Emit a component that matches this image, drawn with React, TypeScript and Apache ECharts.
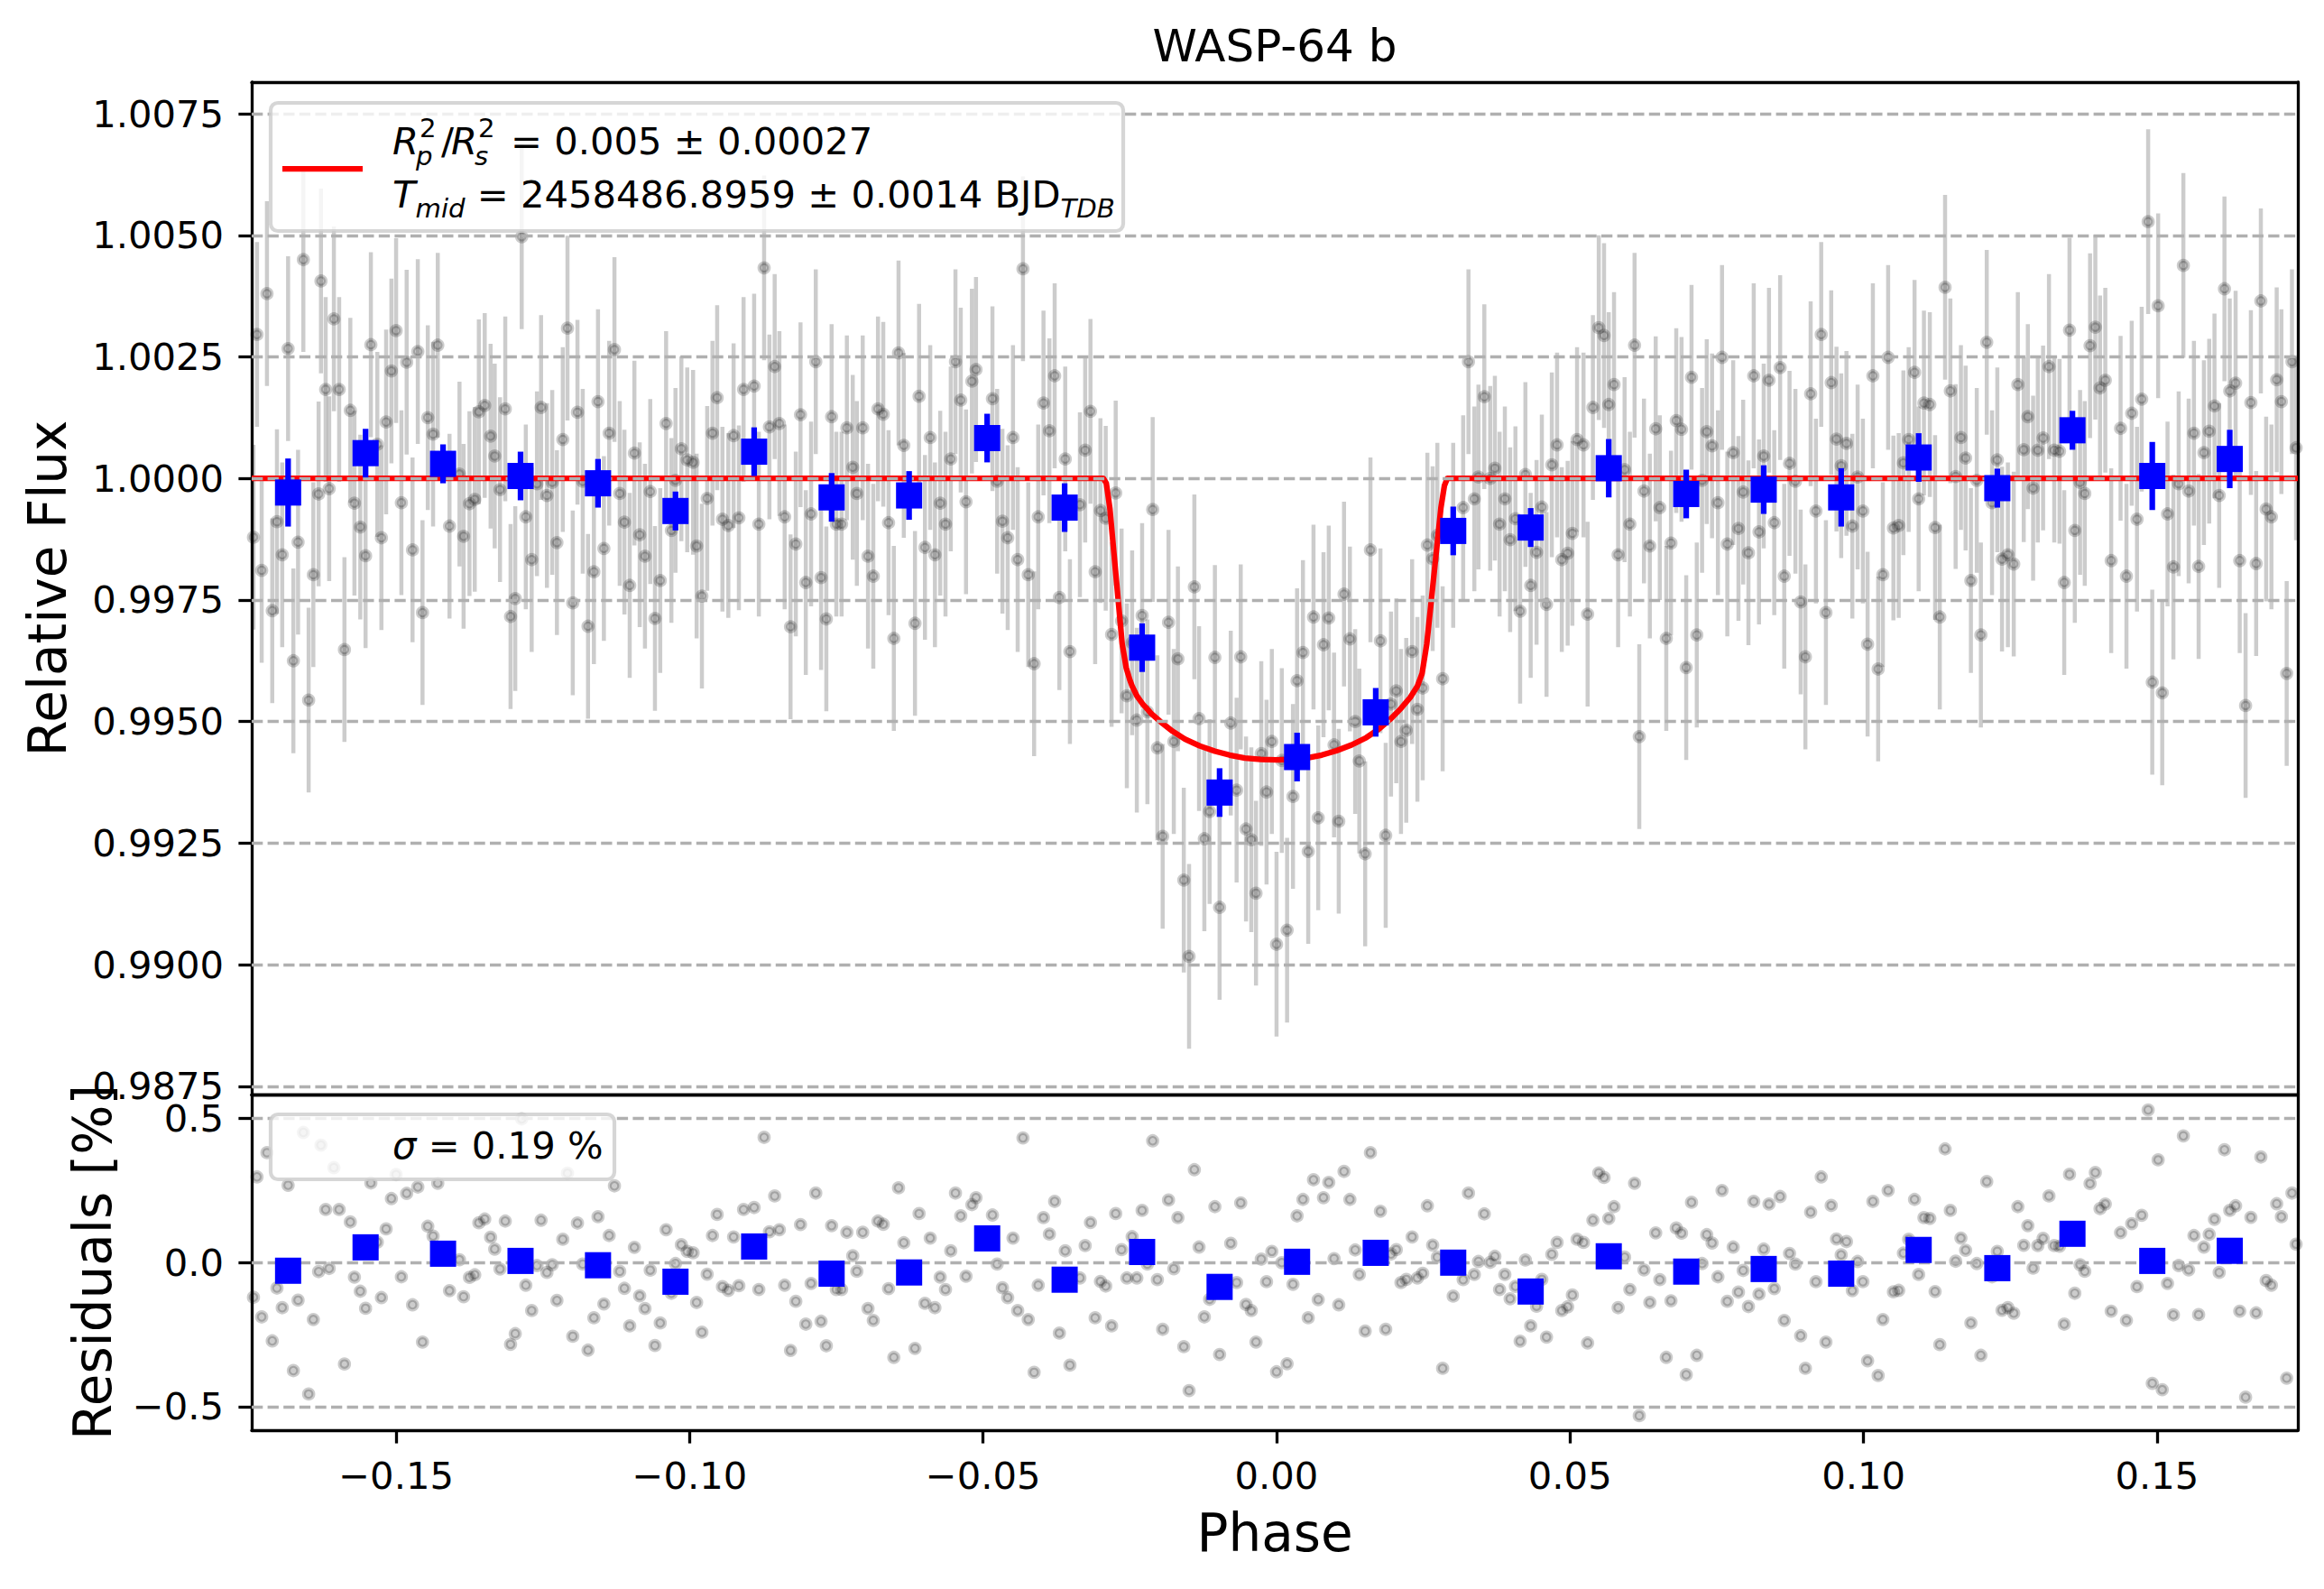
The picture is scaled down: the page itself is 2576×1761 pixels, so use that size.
import React, { useEffect, useRef } from 'react'
import * as echarts from 'echarts'

const FONT = 'DejaVu Sans'
const TICK_FS = 41.7
const LABEL_FS = 58
const TITLE = 'WASP-64 b'

// axis ranges and ticks
const PHASE_MIN = -0.1746
const PHASE_MAX = 0.174
const FLUX_MIN = 0.98733
const FLUX_MAX = 1.00815
const RESID_MIN = -0.5813
const RESID_MAX = 0.5813
const phaseTicks = [-0.15, -0.1, -0.05, 0, 0.05, 0.1, 0.15]
const fluxTicks = [0.9875, 0.99, 0.9925, 0.995, 0.9975, 1.0, 1.0025, 1.005, 1.0075]
const residTicks = [-0.5, 0, 0.5]

// unbinned photometry (2 min cadence)
const FLUX_ERR = 0.0019
const rawPhase = [
  -0.1743, -0.1737, -0.1729, -0.1720, -0.1711, -0.1703, -0.1694, -0.1684, -0.1675, -0.1667,
  -0.1658, -0.1649, -0.1641, -0.1632, -0.1628, -0.1620, -0.1614, -0.1606, -0.1597, -0.1588,
  -0.1578, -0.1571, -0.1561, -0.1552, -0.1543, -0.1532, -0.1525, -0.1517, -0.1508, -0.1500,
  -0.1491, -0.1482, -0.1472, -0.1463, -0.1455, -0.1446, -0.1437, -0.1429, -0.1409, -0.1392,
  -0.1385, -0.1375, -0.1366, -0.1359, -0.1349, -0.1339, -0.1332, -0.1323, -0.1314, -0.1305,
  -0.1297, -0.1286, -0.1279, -0.1269, -0.1260, -0.1253, -0.1243, -0.1234, -0.1226, -0.1216,
  -0.1208, -0.1199, -0.1191, -0.1182, -0.1173, -0.1163, -0.1156, -0.1146, -0.1137, -0.1128,
  -0.1119, -0.1111, -0.1102, -0.1094, -0.1085, -0.1076, -0.1067, -0.1059, -0.1050, -0.1040,
  -0.1031, -0.1024, -0.1014, -0.1004, -0.0994, -0.0988, -0.0979, -0.0970, -0.0961, -0.0953,
  -0.0944, -0.0934, -0.0925, -0.0916, -0.0908, -0.0890, -0.0882, -0.0873, -0.0864, -0.0855,
  -0.0847, -0.0838, -0.0828, -0.0819, -0.0811, -0.0802, -0.0793, -0.0785, -0.0776, -0.0767,
  -0.0758, -0.0750, -0.0741, -0.0732, -0.0722, -0.0715, -0.0705, -0.0696, -0.0687, -0.0679,
  -0.0670, -0.0661, -0.0652, -0.0644, -0.0635, -0.0616, -0.0609, -0.0599, -0.0590, -0.0582,
  -0.0573, -0.0564, -0.0555, -0.0547, -0.0538, -0.0529, -0.0519, -0.0512, -0.0484, -0.0476,
  -0.0467, -0.0458, -0.0449, -0.0441, -0.0432, -0.0423, -0.0413, -0.0406, -0.0397, -0.0387,
  -0.0378, -0.0370, -0.0360, -0.0352, -0.0335, -0.0326, -0.0317, -0.0309, -0.0300, -0.0291,
  -0.0281, -0.0274, -0.0264, -0.0255, -0.0246, -0.0238, -0.0229, -0.0220, -0.0211, -0.0203,
  -0.0194, -0.0184, -0.0175, -0.0168, -0.0158,
  -0.0149, -0.0140, -0.0132, -0.0123, -0.0114, -0.0105, -0.0097, -0.0078, -0.0068, -0.0061,
  -0.0052, -0.0043, -0.0035, -0.0026, -0.0017, -0.0008, 0.0000, 0.0009, 0.0018, 0.0028,
  0.0035, 0.0045, 0.0054, 0.0063, 0.0071, 0.0080, 0.0089, 0.0098, 0.0106, 0.0115,
  0.0125, 0.0134, 0.0141, 0.0151, 0.0160, 0.0177, 0.0186, 0.0195, 0.0204, 0.0212,
  0.0221, 0.0231, 0.0240, 0.0249, 0.0257, 0.0266, 0.0274, 0.0283, 0.0301, 0.0318,
  0.0327, 0.0337, 0.0344, 0.0354, 0.0364, 0.0372, 0.0380, 0.0389, 0.0398, 0.0407,
  0.0415, 0.0424, 0.0433, 0.0443, 0.0452, 0.0460, 0.0469, 0.0478, 0.0486, 0.0496,
  0.0504, 0.0512, 0.0523, 0.0530, 0.0539, 0.0549, 0.0558, 0.0566, 0.0575, 0.0582,
  0.0593, 0.0602, 0.0610, 0.0618, 0.0626,
  0.0636, 0.0646, 0.0653, 0.0664, 0.0672, 0.0681, 0.0690, 0.0698, 0.0707, 0.0716,
  0.0725, 0.0733, 0.0742, 0.0752, 0.0759, 0.0768, 0.0778, 0.0787, 0.0795, 0.0804,
  0.0813, 0.0822, 0.0830, 0.0839, 0.0848, 0.0858, 0.0865, 0.0874, 0.0884, 0.0893,
  0.0901, 0.0910, 0.0919, 0.0928, 0.0936, 0.0945, 0.0954, 0.0962, 0.0971, 0.0981,
  0.0990, 0.0999, 0.1007, 0.1016, 0.1025, 0.1033, 0.1042, 0.1051, 0.1060, 0.1068,
  0.1077, 0.1087, 0.1094, 0.1103, 0.1113, 0.1122, 0.1130, 0.1139, 0.1148, 0.1157,
  0.1166, 0.1174, 0.1183, 0.1193, 0.1200, 0.1210, 0.1219, 0.1228, 0.1236, 0.1246,
  0.1256, 0.1263, 0.1273, 0.1280, 0.1289, 0.1297, 0.1306, 0.1316, 0.1325, 0.1334,
  0.1342, 0.1351, 0.1360, 0.1369, 0.1377, 0.1386, 0.1395, 0.1403, 0.1412, 0.1422,
  0.1438, 0.1448, 0.1457, 0.1466, 0.1474, 0.1485, 0.1492, 0.1502, 0.1509, 0.1518,
  0.1528, 0.1537, 0.1545, 0.1554, 0.1563, 0.1571, 0.1580, 0.1589, 0.1598, 0.1606,
  0.1615, 0.1624, 0.1634, 0.1641, 0.1651, 0.1660, 0.1669, 0.1677, 0.1686, 0.1695,
  0.1704, 0.1712, 0.1721, 0.1730, 0.1737,
]
const rawFlux = [
  0.99879, 1.00296, 0.99811, 1.00380, 0.99728, 0.99911, 0.99843, 1.00267, 0.99625, 0.99869,
  1.00450, 0.99544, 0.99802, 0.99968, 1.00406, 1.00183, 0.99979, 1.00328, 1.00183, 0.99648,
  1.00140, 0.99949, 0.99900, 0.99841, 1.00275, 1.00070, 0.99878, 1.00116, 1.00221, 1.00304,
  0.99950, 1.00239, 0.99853, 1.00261, 0.99724, 1.00125, 1.00091, 1.00274, 0.99902, 1.00009,
  0.99881, 0.99948, 0.99957, 1.00137, 1.00150, 1.00087, 1.00046, 0.99977, 1.00143, 0.99716,
  0.99753, 1.00497, 0.99921, 0.99833, 0.99989, 1.00146, 0.99965, 0.99992, 0.99868, 1.00080,
  1.00309, 0.99744, 1.00136, 0.99994, 0.99696, 0.99808, 1.00158, 0.99856, 1.00093, 1.00265,
  0.99969, 0.99910, 0.99780, 1.00052, 0.99884, 0.99840, 0.99973, 0.99712, 0.99790, 1.00113,
  0.99893, 0.99996, 1.00061, 1.00038, 1.00033, 0.99861, 0.99758, 0.99959, 1.00093, 1.00166,
  0.99916, 0.99903, 1.00088, 0.99919, 1.00183, 1.00190, 0.99906, 1.00433, 1.00106, 1.00230,
  1.00113, 0.99921, 0.99695, 0.99865, 1.00131, 0.99786, 0.99927, 1.00240, 0.99796, 0.99711,
  1.00127, 0.99906, 0.99906, 1.00104, 1.00023, 0.99969, 1.00104, 0.99840, 0.99799, 1.00143,
  1.00132, 0.99909, 0.99671, 1.00258, 1.00068, 0.99702, 1.00169, 0.99858, 1.00084, 0.99843,
  0.99949, 0.99906, 1.00040, 1.00240, 1.00161, 0.99952, 1.00200, 1.00224, 1.00164, 0.99994,
  0.99912, 0.99878, 1.00084, 0.99833, 1.00431, 0.99802, 0.99619, 0.99921, 1.00155, 1.00098,
  1.00211, 0.99755, 1.00040, 0.99644, 0.99946, 1.00058, 1.00138, 0.99808, 0.99934, 0.99918,
  0.99679, 0.99970, 0.99707, 0.99553, 0.99662, 0.99503, 0.99718, 0.99520, 0.99936, 0.99446,
  0.99264, 0.99704, 0.99459, 0.99629, 0.99174,
  0.99017, 0.99777, 0.99506, 0.99259, 0.99315, 0.99632, 0.99118, 0.99497, 0.99359, 0.99633,
  0.99279, 0.99257, 0.99147, 0.99434, 0.99355, 0.99459, 0.99042, 0.99420, 0.99071, 0.99346,
  0.99584, 0.99642, 0.99233, 0.99715, 0.99302, 0.99658, 0.99713, 0.99452, 0.99295, 0.99762,
  0.99670, 0.99500, 0.99419, 0.99228, 0.99853, 0.99666, 0.99266, 0.99536, 0.99563, 0.99459,
  0.99482, 0.99644, 0.99525, 0.99569, 0.99863, 0.99835, 0.99883, 0.99588, 0.99883, 0.99940,
  1.00240, 0.99958, 1.00003, 1.00168, 1.00000, 1.00021, 0.99906, 0.99958, 0.99874, 0.99917,
  0.99727, 1.00008, 0.99780, 0.99848, 0.99941, 0.99741, 1.00028, 1.00069, 0.99833, 0.99846,
  0.99887, 1.00080, 1.00069, 0.99721, 1.00146, 1.00310, 1.00294, 1.00152, 1.00193, 0.99843,
  1.00018, 0.99906, 1.00274, 0.99469, 0.99974,
  0.99861, 1.00102, 0.99940, 0.99671, 0.99867, 1.00119, 1.00101, 0.99611, 1.00208, 0.99678,
  0.99996, 1.00096, 1.00067, 0.99950, 1.00249, 0.99865, 1.00053, 0.99897, 0.99972, 0.99847,
  1.00211, 0.99890, 1.00046, 1.00202, 0.99909, 1.00228, 0.99799, 1.00031, 0.99994, 0.99746,
  0.99633, 1.00174, 0.99933, 1.00296, 0.99724, 1.00197, 1.00081, 1.00026, 1.00072, 0.99902,
  1.00003, 0.99933, 0.99659, 1.00211, 0.99608, 0.99802, 1.00249, 0.99898, 0.99903, 1.00032,
  1.00080, 1.00218, 0.99958, 1.00155, 1.00152, 0.99899, 0.99715, 1.00393, 1.00180, 1.00004,
  1.00084, 1.00042, 0.99790, 0.99996, 0.99678, 1.00280, 0.99950, 1.00038, 0.99834, 0.99843,
  0.99824, 1.00193, 1.00059, 1.00127, 0.99980, 1.00058, 1.00083, 1.00230, 1.00058, 1.00056,
  0.99786, 1.00305, 0.99893, 0.99992, 0.99969, 1.00273, 1.00311, 1.00186, 1.00202, 0.99831,
  1.00103, 0.99799, 1.00134, 0.99916, 1.00163, 1.00528, 0.99581, 1.00355, 0.99559, 0.99927,
  0.99818, 0.99989, 1.00438, 0.99974, 1.00093, 0.99819, 1.00053, 1.00097, 1.00149, 0.99965,
  1.00390, 1.00180, 1.00196, 0.99831, 0.99533, 1.00156, 0.99825, 1.00365, 0.99937, 0.99921,
  1.00203, 1.00158, 0.99599, 1.00240, 1.00063,
]
// residuals in per cent
const rawResid = [
  -0.121, 0.296, -0.189, 0.380, -0.272, -0.089, -0.157, 0.267, -0.375, -0.131,
  0.450, -0.456, -0.198, -0.032, 0.406, 0.183, -0.021, 0.328, 0.183, -0.352,
  0.140, -0.051, -0.100, -0.159, 0.275, 0.070, -0.122, 0.116, 0.221, 0.304,
  -0.050, 0.239, -0.147, 0.261, -0.276, 0.125, 0.091, 0.274, -0.098, 0.009,
  -0.119, -0.052, -0.043, 0.137, 0.150, 0.087, 0.046, -0.023, 0.143, -0.284,
  -0.247, 0.497, -0.079, -0.167, -0.011, 0.146, -0.035, -0.008, -0.132, 0.080,
  0.309, -0.256, 0.136, -0.006, -0.304, -0.192, 0.158, -0.144, 0.093, 0.265,
  -0.031, -0.090, -0.220, 0.052, -0.116, -0.160, -0.027, -0.288, -0.210, 0.113,
  -0.107, -0.004, 0.061, 0.038, 0.033, -0.139, -0.242, -0.041, 0.093, 0.166,
  -0.084, -0.097, 0.088, -0.081, 0.183, 0.190, -0.094, 0.433, 0.106, 0.230,
  0.113, -0.079, -0.305, -0.135, 0.131, -0.214, -0.073, 0.240, -0.204, -0.289,
  0.127, -0.094, -0.094, 0.104, 0.023, -0.031, 0.104, -0.160, -0.201, 0.143,
  0.132, -0.091, -0.329, 0.258, 0.068, -0.298, 0.169, -0.142, 0.084, -0.157,
  -0.051, -0.094, 0.040, 0.240, 0.161, -0.048, 0.200, 0.224, 0.164, -0.006,
  -0.088, -0.122, 0.084, -0.167, 0.431, -0.198, -0.381, -0.079, 0.155, 0.098,
  0.211, -0.245, 0.040, -0.356, -0.054, 0.058, 0.138, -0.192, -0.066, -0.082,
  -0.220, 0.169, 0.044, -0.054, 0.089, -0.054, 0.180, -0.006, 0.421, -0.060,
  -0.232, 0.216, -0.022, 0.155, -0.292,
  -0.444, 0.321, 0.053, -0.189, -0.128, 0.193, -0.319, 0.066, -0.070, 0.206,
  -0.146, -0.167, -0.276, 0.011, -0.067, 0.038, -0.379, -0.001, -0.351, -0.076,
  0.161, 0.218, -0.192, 0.286, -0.129, 0.224, 0.277, 0.013, -0.147, 0.315,
  0.218, 0.043, -0.042, -0.238, 0.380, 0.177, -0.232, 0.029, 0.044, -0.070,
  -0.059, 0.088, -0.054, -0.038, 0.196, 0.060, 0.018, -0.367, -0.117, -0.060,
  0.240, -0.042, 0.003, 0.168, 0.000, 0.021, -0.094, -0.042, -0.126, -0.083,
  -0.273, 0.008, -0.220, -0.152, -0.059, -0.259, 0.028, 0.069, -0.167, -0.154,
  -0.113, 0.080, 0.069, -0.279, 0.146, 0.310, 0.294, 0.152, 0.193, -0.157,
  0.018, -0.094, 0.274, -0.531, -0.026,
  -0.139, 0.102, -0.060, -0.329, -0.133, 0.119, 0.101, -0.389, 0.208, -0.322,
  -0.004, 0.096, 0.067, -0.050, 0.249, -0.135, 0.053, -0.103, -0.028, -0.153,
  0.211, -0.110, 0.046, 0.202, -0.091, 0.228, -0.201, 0.031, -0.006, -0.254,
  -0.367, 0.174, -0.067, 0.296, -0.276, 0.197, 0.081, 0.026, 0.072, -0.098,
  0.003, -0.067, -0.341, 0.211, -0.392, -0.198, 0.249, -0.102, -0.097, 0.032,
  0.080, 0.218, -0.042, 0.155, 0.152, -0.101, -0.285, 0.393, 0.180, 0.004,
  0.084, 0.042, -0.210, -0.004, -0.322, 0.280, -0.050, 0.038, -0.166, -0.157,
  -0.176, 0.193, 0.059, 0.127, -0.020, 0.058, 0.083, 0.230, 0.058, 0.056,
  -0.214, 0.305, -0.107, -0.008, -0.031, 0.273, 0.311, 0.186, 0.202, -0.169,
  0.103, -0.201, 0.134, -0.084, 0.163, 0.528, -0.419, 0.355, -0.441, -0.073,
  -0.182, -0.011, 0.438, -0.026, 0.093, -0.181, 0.053, 0.097, 0.149, -0.035,
  0.390, 0.180, 0.196, -0.169, -0.467, 0.156, -0.175, 0.365, -0.063, -0.079,
  0.203, 0.158, -0.401, 0.240, 0.063,
]

// binned points
const binPhase = [
  -0.1684, -0.1552, -0.1420, -0.1288, -0.1156, -0.1024, -0.0890, -0.0758, -0.0626, -0.0493,
  -0.0361, -0.0229, -0.0097, 0.0035, 0.0169, 0.0301, 0.0433, 0.0566, 0.0698, 0.0830,
  0.0962, 0.1094, 0.1228, 0.1356, 0.1492, 0.1624,
]
const binFlux = [
  0.99971, 1.00052, 1.00030, 1.00005, 0.99990, 0.99933, 1.00055, 0.99961, 0.99965, 1.00083,
  0.99940, 0.99652, 0.99354, 0.99427, 0.99519, 0.99892, 0.99899, 1.00021, 0.99968, 0.99977,
  0.99961, 1.00043, 0.99980, 1.00099, 1.00005, 1.00040,
]
const binErr = [
  0.0007, 0.0005, 0.0004, 0.0005, 0.0005, 0.0004, 0.0005, 0.0005, 0.0005, 0.0005,
  0.0005, 0.0005, 0.0005, 0.0005, 0.0005, 0.0005, 0.0004, 0.0006, 0.0005, 0.0005,
  0.0006, 0.0005, 0.0004, 0.0004, 0.0007, 0.0006,
]
const binResid = [
  -0.029, 0.052, 0.030, 0.005, -0.010, -0.067, 0.055, -0.039, -0.035, 0.083,
  -0.060, 0.036, -0.085, 0.002, 0.033, -0.001, -0.101, 0.021, -0.032, -0.023,
  -0.039, 0.043, -0.020, 0.099, 0.005, 0.040,
]

// transit model
const modelPhase = [
  -0.1746, -0.0295, -0.0290, -0.0284, -0.0277, -0.0270, -0.0263, -0.0256, -0.0250, -0.0246,
  -0.0238, -0.0228, -0.0213, -0.0197, -0.0177, -0.0156, -0.0131, -0.0105, -0.0080, -0.0054,
  -0.0027, 0.0000, 0.0026, 0.0051, 0.0077, 0.0102, 0.0128, 0.0153, 0.0175, 0.0194,
  0.0212, 0.0228, 0.0240, 0.0248, 0.0256, 0.0264, 0.0272, 0.0280, 0.0286, 0.0291, 0.1740,
]
const modelFlux = [
  1.0, 1.0, 0.9999, 0.99939, 0.99846, 0.99753, 0.9966, 0.9961, 0.99586, 0.99573,
  0.99553, 0.99536, 0.99516, 0.99499, 0.9948, 0.99464, 0.9945, 0.99439, 0.99431, 0.99425,
  0.99422, 0.99421, 0.99422, 0.99425, 0.99431, 0.9944, 0.99452, 0.99467, 0.99485, 0.99505,
  0.99527, 0.9955, 0.99573, 0.99599, 0.9966, 0.99753, 0.99846, 0.99939, 0.99985, 1.0, 1.0,
]

const fmtMinus = (v: number, digits: number) =>
  (v < -1e-9 ? '\u2212' : '') + Math.abs(v).toFixed(digits)

const spine = { show: true, onZero: false, lineStyle: { color: '#000', width: 3.3 } }
const tickStyle = { length: 14.6, lineStyle: { color: '#000', width: 3.3 } }
const labelStyle = { fontFamily: FONT, fontSize: TICK_FS, color: '#000' }
const gridLine = { color: '#b0b0b0', width: 3.3, type: [12.3, 5.3] as number[] }

const errorBars = (color: string, width: number) => (params: any, api: any) => {
  const x = api.value(0)
  const y = api.value(1)
  const e = api.value(2)
  const lo = api.coord([x, y - e])
  const hi = api.coord([x, y + e])
  return {
    type: 'line',
    shape: { x1: lo[0], y1: lo[1], x2: hi[0], y2: hi[1] },
    style: { stroke: color, lineWidth: width },
  }
}

const bareAxis = (gridIndex: number, position: string, min: number, max: number) => ({
  type: 'value',
  gridIndex,
  position,
  min,
  max,
  axisLine: spine,
  axisTick: { show: false },
  axisLabel: { show: false },
  splitLine: { show: false },
})

const gridLines = (xAxisIndex: number, yAxisIndex: number, ticks: number[]) => ({
  type: 'line',
  xAxisIndex,
  yAxisIndex,
  data: [],
  z: 1,
  silent: true,
  markLine: {
    silent: true,
    precision: 6,
    symbol: ['none', 'none'],
    label: { show: false },
    lineStyle: gridLine,
    emphasis: { disabled: true },
    data: ticks.map((v) => ({ yAxis: v })),
  },
})

const grayPoint = {
  color: 'rgba(0,0,0,0.2)',
  borderColor: 'rgba(0,0,0,0.2)',
  borderWidth: 4.2,
  opacity: 1,
}

const txt = (text: string, x: number, y: number, size: number, extra: any = {}) => ({
  type: 'text',
  x,
  y,
  z: 100,
  style: {
    text,
    fontFamily: FONT,
    fontSize: size,
    fill: '#000',
    align: 'left',
    verticalAlign: 'middle',
    ...extra,
  },
})

const App: React.FC = () => {
  const chartRef = useRef<HTMLDivElement>(null)

  useEffect(() => {
    if (!chartRef.current) return
    const chart = echarts.init(chartRef.current, undefined, { renderer: 'svg' })

    const option: any = {
      animation: false,
      backgroundColor: '#ffffff',
      grid: [
        { left: 279, top: 91, width: 2268, height: 1122 },
        { left: 279, top: 1213, width: 2268, height: 372 },
      ],
      xAxis: [
        bareAxis(0, 'bottom', PHASE_MIN, PHASE_MAX),
        bareAxis(0, 'top', PHASE_MIN, PHASE_MAX),
        {
          type: 'value',
          gridIndex: 1,
          position: 'bottom',
          min: PHASE_MIN,
          max: PHASE_MAX,
          axisLine: spine,
          axisTick: { show: true, customValues: phaseTicks, ...tickStyle },
          axisLabel: {
            show: true,
            customValues: phaseTicks,
            margin: 29,
            formatter: (v: number) => fmtMinus(v, 2),
            ...labelStyle,
          },
          splitLine: { show: false },
        },
        bareAxis(1, 'top', PHASE_MIN, PHASE_MAX),
      ],
      yAxis: [
        {
          type: 'value',
          gridIndex: 0,
          position: 'left',
          min: FLUX_MIN,
          max: FLUX_MAX,
          axisLine: spine,
          axisTick: { show: true, customValues: fluxTicks, ...tickStyle },
          axisLabel: {
            show: true,
            customValues: fluxTicks,
            margin: 31,
            formatter: (v: number) => v.toFixed(4),
            ...labelStyle,
          },
          splitLine: { show: false },
        },
        bareAxis(0, 'right', FLUX_MIN, FLUX_MAX),
        {
          type: 'value',
          gridIndex: 1,
          position: 'left',
          min: RESID_MIN,
          max: RESID_MAX,
          axisLine: spine,
          axisTick: { show: true, customValues: residTicks, ...tickStyle },
          axisLabel: {
            show: true,
            customValues: residTicks,
            margin: 31,
            formatter: (v: number) => fmtMinus(v, 1),
            ...labelStyle,
          },
          splitLine: { show: false },
        },
        bareAxis(1, 'right', RESID_MIN, RESID_MAX),
      ],
      series: [
        gridLines(0, 0, fluxTicks),
        gridLines(2, 2, residTicks),
        {
          type: 'custom',
          xAxisIndex: 0,
          yAxisIndex: 0,
          z: 2,
          silent: true,
          clip: true,
          encode: { x: 0, y: 1 },
          data: rawPhase.map((p, i) => [p, rawFlux[i], FLUX_ERR]),
          renderItem: errorBars('rgba(0,0,0,0.2)', 4.5),
        },
        {
          type: 'scatter',
          xAxisIndex: 0,
          yAxisIndex: 0,
          z: 3,
          silent: true,
          symbol: 'circle',
          symbolSize: 10.5,
          itemStyle: grayPoint,
          data: rawPhase.map((p, i) => [p, rawFlux[i]]),
        },
        {
          type: 'line',
          xAxisIndex: 0,
          yAxisIndex: 0,
          z: 4,
          silent: true,
          symbol: 'none',
          showSymbol: false,
          lineStyle: { color: '#ff0000', width: 6.25, join: 'round' },
          data: modelPhase.map((p, i) => [p, modelFlux[i]]),
        },
        {
          type: 'custom',
          xAxisIndex: 0,
          yAxisIndex: 0,
          z: 5,
          silent: true,
          clip: true,
          encode: { x: 0, y: 1 },
          data: binPhase.map((p, i) => [p, binFlux[i], binErr[i]]),
          renderItem: errorBars('#0000ff', 6.25),
        },
        {
          type: 'scatter',
          xAxisIndex: 0,
          yAxisIndex: 0,
          z: 6,
          silent: true,
          symbol: 'rect',
          symbolSize: 29,
          itemStyle: { color: '#0000ff', opacity: 1 },
          data: binPhase.map((p, i) => [p, binFlux[i]]),
        },
        {
          type: 'scatter',
          xAxisIndex: 2,
          yAxisIndex: 2,
          z: 3,
          silent: true,
          symbol: 'circle',
          symbolSize: 10.5,
          itemStyle: grayPoint,
          data: rawPhase.map((p, i) => [p, rawResid[i]]),
        },
        {
          type: 'scatter',
          xAxisIndex: 2,
          yAxisIndex: 2,
          z: 6,
          silent: true,
          symbol: 'rect',
          symbolSize: 29,
          itemStyle: { color: '#0000ff', opacity: 1 },
          data: binPhase.map((p, i) => [p, binResid[i]]),
        },
      ],
      graphic: {
        elements: [
          txt(TITLE, 1413, 51, 50, { align: 'center' }),
          {
            type: 'text',
            x: 53,
            y: 652,
            rotation: Math.PI / 2,
            z: 100,
            style: {
              text: 'Relative Flux',
              fontFamily: FONT,
              fontSize: LABEL_FS,
              fill: '#000',
              align: 'center',
              verticalAlign: 'middle',
            },
          },
          {
            type: 'text',
            x: 103,
            y: 1399,
            rotation: Math.PI / 2,
            z: 100,
            style: {
              text: 'Residuals [%]',
              fontFamily: FONT,
              fontSize: LABEL_FS,
              fill: '#000',
              align: 'center',
              verticalAlign: 'middle',
            },
          },
          txt('Phase', 1413, 1699, LABEL_FS, { align: 'center' }),
          // fit legend
          {
            type: 'rect',
            z: 90,
            shape: { x: 300, y: 114, width: 945, height: 142, r: 8 },
            style: { fill: 'rgba(255,255,255,0.8)', stroke: 'rgba(204,204,204,0.8)', lineWidth: 4.2 },
          },
          {
            type: 'line',
            z: 100,
            shape: { x1: 313, y1: 187, x2: 402, y2: 187 },
            style: { stroke: '#ff0000', lineWidth: 6.25 },
          },
          txt('R', 435, 156, TICK_FS, { fontStyle: 'italic' }),
          txt('2', 465, 142, 29.2),
          txt('p', 461, 173, 29.2, { fontStyle: 'italic' }),
          txt('/', 489, 156, TICK_FS),
          txt('R', 500, 156, TICK_FS, { fontStyle: 'italic' }),
          txt('2', 530, 142, 29.2),
          txt('s', 526, 173, 29.2, { fontStyle: 'italic' }),
          txt('= 0.005 \u00b1 0.00027', 566, 156, TICK_FS),
          txt('{it|T}{sub|mid} = 2458486.8959 \u00b1 0.0014 BJD{sub|TDB}', 435, 215, TICK_FS, {
            lineHeight: 60,
            rich: {
              it: { fontFamily: FONT, fontSize: TICK_FS, fontStyle: 'italic', lineHeight: 60, fill: '#000' },
              sub: {
                fontFamily: FONT,
                fontSize: 29.2,
                fontStyle: 'italic',
                lineHeight: 36,
                verticalAlign: 'bottom',
                fill: '#000',
              },
            },
          }),
          // residual legend
          {
            type: 'rect',
            z: 90,
            shape: { x: 300, y: 1235, width: 381, height: 72, r: 8 },
            style: { fill: 'rgba(255,255,255,0.8)', stroke: 'rgba(204,204,204,0.8)', lineWidth: 4.2 },
          },
          txt('{it|\u03c3} = 0.19 %', 435, 1269, TICK_FS, {
            rich: { it: { fontFamily: FONT, fontSize: TICK_FS, fontStyle: 'italic', fill: '#000' } },
          }),
        ],
      },
    }

    chart.setOption(option)
    return () => chart.dispose()
  }, [])

  return (
    <div
      ref={chartRef}
      style={{ position: 'absolute', left: 0, top: 0, width: 2576, height: 1761, background: '#fff' }}
    />
  )
}

export default App
